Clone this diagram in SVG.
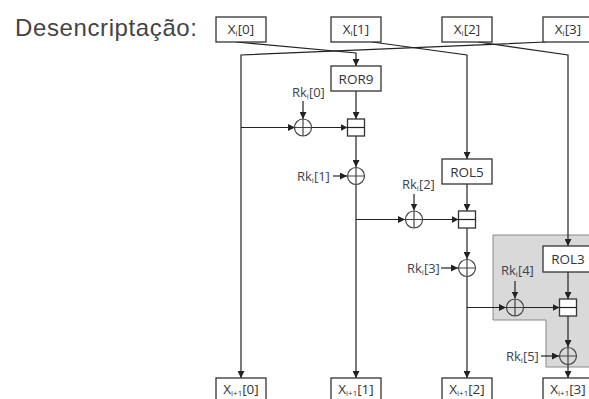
<svg xmlns="http://www.w3.org/2000/svg" width="589" height="399" viewBox="0 0 589 399">
<defs>
<style>
.bx{fill:#fff;stroke:#333;stroke-width:1.3}
.ln{fill:none;stroke:#222;stroke-width:1.2}
.ci{fill:none;stroke:#444;stroke-width:1.2}
.lb{font-family:"Open Sans","Liberation Sans",sans-serif;font-size:13.5px;fill:#333;text-anchor:middle}
.rk{font-family:"Open Sans","Liberation Sans",sans-serif;font-size:13px;fill:#3c4450}
.sub{font-size:8px}
</style>
<marker id="ah" viewBox="0 0 8 8" refX="8" refY="4" markerWidth="7" markerHeight="7" orient="auto" markerUnits="userSpaceOnUse"><path d="M0,0 L8,4 L0,8 z" fill="#222"/></marker>
</defs>
<rect width="589" height="399" fill="#fff"/>
<text x="15" y="36" font-family="Liberation Sans, Arial, sans-serif" font-size="24" fill="#444" textLength="182">Desencriptação:</text>
<polygon id="shade" points="493,235 595,235 595,367 546,367 546,320 493,320" fill="#d9d9d9" stroke="#888" stroke-width="1"/>
<g id="connectors" class="ln" marker-end="url(#ah)">
<polyline points="236,42 356,53 356,66"/>
<polyline points="372,42 467,55 467,159"/>
<polyline points="478,42 568,55 568,246"/>
<polyline points="546,42 241,55 241,378"/>
<line x1="356" y1="91" x2="356" y2="119"/>
<line x1="303" y1="101" x2="303" y2="119"/>
<line x1="241" y1="127.5" x2="295" y2="127.5"/>
<line x1="311" y1="127.5" x2="347.5" y2="127.5"/>
<line x1="356" y1="136" x2="356" y2="167"/>
<line x1="333" y1="176" x2="347" y2="176"/>
<line x1="356" y1="185" x2="356" y2="378"/>
<line x1="356" y1="219.5" x2="405" y2="219.5"/>
<line x1="414" y1="194" x2="414" y2="210.5"/>
<line x1="423" y1="219.5" x2="458.5" y2="219.5"/>
<line x1="467" y1="184" x2="467" y2="211"/>
<line x1="467" y1="228" x2="467" y2="259"/>
<line x1="441" y1="268" x2="458" y2="268"/>
<line x1="467" y1="277" x2="467" y2="378"/>
<line x1="467" y1="307.5" x2="506" y2="307.5"/>
<line x1="515" y1="281" x2="515" y2="298.5"/>
<line x1="524" y1="307.5" x2="559.5" y2="307.5"/>
<line x1="568" y1="272" x2="568" y2="299"/>
<line x1="568" y1="316" x2="568" y2="347"/>
<line x1="541" y1="356" x2="559" y2="356"/>
<line x1="568" y1="365" x2="568" y2="378"/>
</g>
<g id="xi0"><rect class="bx" x="216" y="17" width="50" height="25"/><text class="lb" x="241" y="34">X<tspan class="sub" dy="2">i</tspan><tspan dy="-2">[0]</tspan></text></g>
<g id="xi1"><rect class="bx" x="331" y="17" width="50" height="25"/><text class="lb" x="356" y="34">X<tspan class="sub" dy="2">i</tspan><tspan dy="-2">[1]</tspan></text></g>
<g id="xi2"><rect class="bx" x="442" y="17" width="50" height="25"/><text class="lb" x="467" y="34">X<tspan class="sub" dy="2">i</tspan><tspan dy="-2">[2]</tspan></text></g>
<g id="xi3"><rect class="bx" x="543" y="17" width="50" height="25"/><text class="lb" x="568" y="34">X<tspan class="sub" dy="2">i</tspan><tspan dy="-2">[3]</tspan></text></g>
<g id="ror9"><rect class="bx" x="331" y="66" width="50" height="25"/><text class="lb" x="356" y="83.5" font-size="14">ROR9</text></g>
<g id="rol5"><rect class="bx" x="442" y="159" width="50" height="25"/><text class="lb" x="467" y="176.5" font-size="14">ROL5</text></g>
<g id="rol3"><rect class="bx" x="543" y="246" width="50" height="26"/><text class="lb" x="568" y="264" font-size="14">ROL3</text></g>
<g id="add1"><rect class="bx" x="347.5" y="119" width="17" height="17"/><line class="ln" x1="347.5" y1="127.5" x2="364.5" y2="127.5"/></g>
<g id="add2"><rect class="bx" x="458.5" y="211" width="17" height="17"/><line class="ln" x1="458.5" y1="219.5" x2="475.5" y2="219.5"/></g>
<g id="add3"><rect class="bx" x="559.5" y="299" width="17" height="17"/><line class="ln" x1="559.5" y1="307.5" x2="576.5" y2="307.5"/></g>
<g id="xor1"><circle class="ci" cx="303" cy="127.5" r="8.5"/><path class="ci" d="M294.5,127.5 H311.5 M303,119 V136"/></g>
<g id="xor2"><circle class="ci" cx="356" cy="176" r="8.5"/><path class="ci" d="M347.5,176 H364.5 M356,167.5 V184.5"/></g>
<g id="xor3"><circle class="ci" cx="414" cy="219.5" r="8.5"/><path class="ci" d="M405.5,219.5 H422.5 M414,211 V228"/></g>
<g id="xor4"><circle class="ci" cx="467" cy="268" r="8.5"/><path class="ci" d="M458.5,268 H475.5 M467,259.5 V276.5"/></g>
<g id="xor5"><circle class="ci" cx="515" cy="307.5" r="8.5"/><path class="ci" d="M506.5,307.5 H523.5 M515,299 V316"/></g>
<g id="xor6"><circle class="ci" cx="568" cy="356" r="8.5"/><path class="ci" d="M559.5,356 H576.5 M568,347.5 V364.5"/></g>
<g id="rk0"><text class="rk" x="292" y="97">Rk<tspan class="sub" dy="2">i</tspan><tspan dy="-2">[0]</tspan></text></g>
<g id="rk1"><text class="rk" x="297" y="180.5">Rk<tspan class="sub" dy="2">i</tspan><tspan dy="-2">[1]</tspan></text></g>
<g id="rk2"><text class="rk" x="402" y="189">Rk<tspan class="sub" dy="2">i</tspan><tspan dy="-2">[2]</tspan></text></g>
<g id="rk3"><text class="rk" x="407" y="272.5">Rk<tspan class="sub" dy="2">i</tspan><tspan dy="-2">[3]</tspan></text></g>
<g id="rk4"><text class="rk" x="501" y="275">Rk<tspan class="sub" dy="2">i</tspan><tspan dy="-2">[4]</tspan></text></g>
<g id="rk5"><text class="rk" x="506" y="360.5">Rk<tspan class="sub" dy="2">i</tspan><tspan dy="-2">[5]</tspan></text></g>
<g id="xo0"><rect class="bx" x="216" y="378" width="50" height="26"/><text class="lb" x="241" y="394">X<tspan class="sub" dy="2">i+1</tspan><tspan dy="-2">[0]</tspan></text></g>
<g id="xo1"><rect class="bx" x="331" y="378" width="50" height="26"/><text class="lb" x="356" y="394">X<tspan class="sub" dy="2">i+1</tspan><tspan dy="-2">[1]</tspan></text></g>
<g id="xo2"><rect class="bx" x="442" y="378" width="50" height="26"/><text class="lb" x="467" y="394">X<tspan class="sub" dy="2">i+1</tspan><tspan dy="-2">[2]</tspan></text></g>
<g id="xo3"><rect class="bx" x="543" y="378" width="50" height="26"/><text class="lb" x="568" y="394">X<tspan class="sub" dy="2">i+1</tspan><tspan dy="-2">[3]</tspan></text></g>
</svg>
